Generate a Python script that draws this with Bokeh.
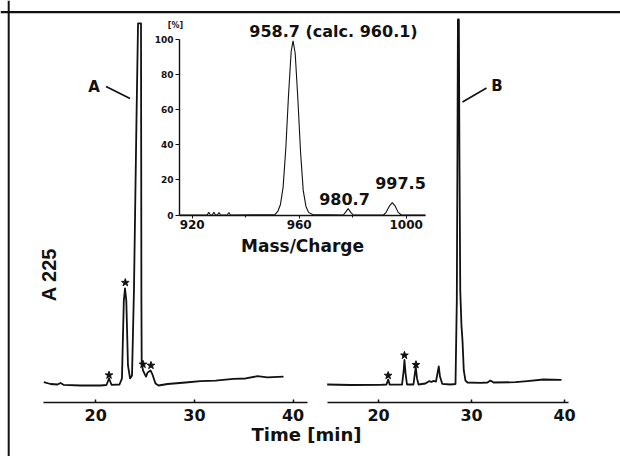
import math
from bokeh.plotting import figure
from bokeh.models import Range1d, LinearAxis, FixedTicker, Span
from bokeh.core.properties import value
from bokeh.embed import file_html
from bokeh.resources import INLINE

# ---------------- data ----------------
# Chromatogram A (left), time [min] vs absorbance at 225 nm (relative units)
time_a = [14.74, 15.42, 16.13, 16.43, 16.74, 18.46, 20.49, 21.09, 21.35, 21.60,
          22.41, 22.66, 22.85, 22.97, 23.10, 23.27, 23.48,
          23.68, 23.88, 24.13, 24.29, 24.59, 24.61, 24.63, 24.66,
          24.79, 24.98, 25.10, 25.25, 25.55, 25.75, 26.06, 26.36,
          27.29, 29.10, 30.62, 32.14, 33.96, 35.18, 36.39, 37.40, 39.03]
abs_a = [0.64, 0.14, 0.0, 0.42, -0.08, -0.28, -0.28, -0.14, 1.67, -0.08,
         0.0, 1.7, 23.3, 26.7, 23.3, 5.3, 1.7,
         2.5, 26.7, 73.3, 100.3, 100.3, 65.0, 23.3, 6.1,
         3.9, 2.8, 2.2, 3.3, 3.9, 2.8, 0.28, -0.28,
         0.14, 0.56, 0.92, 1.1, 1.58, 1.67, 2.3, 2.0, 2.2]
star_time_a = [21.35, 23.00, 24.79, 25.60]
star_abs_a = [2.6, 28.3, 5.6, 5.3]

# Chromatogram B (right)
time_b = [14.47, 16.98, 20.20, 20.85, 21.03, 21.20, 22.52, 22.70, 22.78, 22.89,
          23.05, 23.75, 23.91, 24.00, 24.13, 24.29, 25.04, 25.42, 25.69, 25.90,
          26.17, 26.39, 26.47, 26.60, 26.84, 27.73, 28.27, 28.41, 28.48, 28.53,
          28.63, 28.69, 28.78, 28.91, 29.02, 29.16, 29.34, 29.56, 30.96, 31.71,
          32.03, 32.36, 34.72, 36.01, 37.73, 39.67]
abs_b = [0.0, -0.14, -0.08, 0.0, 1.39, -0.06, -0.06, 3.9, 6.8, 3.3,
         0.0, 0.0, 3.3, 4.8, 1.7, 0.0, 0.28, 0.92, 0.7, 1.0,
         0.83, 3.9, 5.0, 2.2, 0.2, 0.0, 0.14, 23.3, 65.0, 101.4,
         101.4, 65.0, 26.1, 16.4, 12.2, 3.9, 1.1, 0.56, 0.47, 0.56,
         1.1, 0.56, 0.64, 0.92, 1.39, 1.3]
star_time_b = [21.03, 22.78, 24.02]
star_abs_b = [2.5, 8.1, 5.5]

# Inset mass spectrum, m/z vs relative intensity [%]
mz = [915.3, 925.6, 926.2, 926.8, 927.5, 928.1, 928.7, 929.4, 930.0, 930.6,
      933.1, 933.7, 934.3, 951.0, 952.0, 953.0, 954.0, 955.0, 956.0, 957.0,
      957.7, 958.5, 959.5, 960.5, 961.5, 962.5, 963.5, 965.0, 976.5, 977.3,
      978.3, 979.3, 980.2, 991.5, 992.5, 993.7, 994.8, 995.9, 997.0, 998.2, 1007.2]
intensity = [0.0, 0.0, 1.6, 0.0, 0.0, 1.6, 0.0, 0.0, 1.4, 0.0,
             0.0, 1.4, 0.0, 0.3, 2.0, 6.0, 16.0, 38.0, 68.0, 93.0,
             99.0, 92.0, 66.0, 36.0, 14.0, 5.0, 1.5, 0.3, 0.0, 1.5,
             3.6, 1.5, 0.0, 0.0, 1.5, 5.0, 7.0, 5.0, 1.5, 0.0, 0.0]

time_ticks = [20, 30, 40]
mz_ticks = [920, 960, 1000]
mz_minor_ticks = [940, 980]
pct_ticks = [0, 20, 40, 60, 80, 100]
peak_labels = ["958.7 (calc. 960.1)", "980.7", "997.5"]
trace_labels = ["A", "B"]

# ---------------- page calibration (layout) ----------------
W, H = 620, 456
X0, Y0 = 0, 0                      # page offset of the canvas
X1, Y1 = X0 + W, Y0 + H

def lin(p0, v0, slope, p):          # page pixel -> value
    return v0 + (p - p0) / slope

# left time scale: 30 min at page x 193.9, 9.87 px/min
tl = (lin(193.9, 30, 9.87, X0), lin(193.9, 30, 9.87, X1))
# right time scale: 30 min at page x 471.1, 9.3 px/min
tr = (lin(471.1, 30, 9.3, X0), lin(471.1, 30, 9.3, X1))
# absorbance: 0 at page y 384, 3.6 px per unit (upwards)
ab = (lin(384, 0, -3.6, Y1), lin(384, 0, -3.6, Y0))
# m/z: 960 at page x 298.7, 2.675 px per unit
mzr = (lin(298.7, 960, 2.675, X0), lin(298.7, 960, 2.675, X1))
# percent: 0 at page y 214.5, 1.758 px per %
pr = (lin(214.5, 0, -1.758, Y1), lin(214.5, 0, -1.758, Y0))

p = figure(width=W, height=H, title=None,
           x_range=Range1d(*tl), y_range=Range1d(*ab),
           x_axis_type=None, y_axis_type=None,
           output_backend="svg", toolbar_location=None, min_border=0,
           outline_line_color=None, background_fill_color="white",
           border_fill_color="white")
p.extra_x_ranges = {"tR": Range1d(*tr), "mz": Range1d(*mzr), "px": Range1d(X0, X1)}
p.extra_y_ranges = {"pct": Range1d(*pr), "py": Range1d(Y1, Y0)}

INK = "#111111"
FONT = "DejaVu Sans"

# frame border (top and left)
p.add_layout(Span(location=8.2, dimension="height", x_range_name="px",
                  line_color=INK, line_width=2))
p.add_layout(Span(location=11.6, dimension="width", y_range_name="py",
                  line_color=INK, line_width=2.2))

# chromatograms
p.line(time_a, abs_a, line_color=INK, line_width=1.8, line_join="round")
p.scatter(star_time_a, star_abs_a, marker="star", size=8, color=INK)
p.line(time_b, abs_b, x_range_name="tR", line_color=INK, line_width=1.8,
       line_join="round")
p.scatter(star_time_b, star_abs_b, marker="star", size=8, color=INK,
          x_range_name="tR")

# inset spectrum
p.line(mz, intensity, x_range_name="mz", y_range_name="pct",
       line_color=INK, line_width=1.1)

axis_loc = lin(384, 0, -3.6, 402)

def time_axis(xr_name, bounds):
    ax = LinearAxis(x_range_name=xr_name, fixed_location=axis_loc, bounds=bounds,
                    ticker=FixedTicker(ticks=time_ticks, minor_ticks=[]))
    ax.axis_line_color = INK
    ax.axis_line_width = 1.5
    ax.major_tick_in = 3
    ax.major_tick_out = 0
    ax.major_tick_line_color = INK
    ax.major_tick_line_width = 1.5
    ax.minor_tick_line_color = None
    ax.major_label_standoff = 6
    ax.major_label_text_font = FONT
    ax.major_label_text_font_style = "bold"
    ax.major_label_text_font_size = "16px"
    ax.major_label_text_color = INK
    return ax

p.add_layout(time_axis("default", (lin(193.9, 30, 9.87, 43.3), lin(193.9, 30, 9.87, 306.7))), "below")
p.add_layout(time_axis("tR", (lin(471.1, 30, 9.3, 326.7), lin(471.1, 30, 9.3, 568))), "below")

mz_left = lin(298.7, 960, 2.675, 179)
mz_right = lin(298.7, 960, 2.675, 425)

ax_mz = LinearAxis(x_range_name="mz", y_range_name="pct", fixed_location=0,
                   bounds=(mz_left, mz_right),
                   ticker=FixedTicker(ticks=mz_ticks, minor_ticks=mz_minor_ticks),
                   axis_label="Mass/Charge")
ax_mz.axis_line_color = INK
ax_mz.axis_line_width = 1.4
ax_mz.major_tick_in = 0
ax_mz.major_tick_out = 3
ax_mz.major_tick_line_color = INK
ax_mz.minor_tick_in = 0
ax_mz.minor_tick_out = 2
ax_mz.minor_tick_line_color = INK
ax_mz.major_label_standoff = 2
ax_mz.major_label_text_font = FONT
ax_mz.major_label_text_font_style = "bold"
ax_mz.major_label_text_font_size = "12px"
ax_mz.major_label_text_color = INK
ax_mz.axis_label_standoff = 3
ax_mz.axis_label_text_font = FONT
ax_mz.axis_label_text_font_style = "bold"
ax_mz.axis_label_text_font_size = "17px"
ax_mz.axis_label_text_color = INK
p.add_layout(ax_mz, "below")

ax_pct = LinearAxis(x_range_name="mz", y_range_name="pct", fixed_location=mz_left,
                    bounds=(0, 100), ticker=FixedTicker(ticks=pct_ticks, minor_ticks=[]))
ax_pct.axis_line_color = INK
ax_pct.axis_line_width = 1.4
ax_pct.major_tick_in = 0
ax_pct.major_tick_out = 4
ax_pct.major_tick_line_color = INK
ax_pct.minor_tick_line_color = None
ax_pct.major_label_standoff = 2
ax_pct.major_label_text_font = FONT
ax_pct.major_label_text_font_style = "bold"
ax_pct.major_label_text_font_size = "9px"
ax_pct.major_label_text_color = INK
p.add_layout(ax_pct, "left")

# texts (page-pixel positions)
def txt(x, y, s, size, font=FONT, angle=0.0, align="center"):
    p.text(x=[x], y=[y], text=[s], x_range_name="px", y_range_name="py",
           text_font=value(font), text_font_style="bold", text_font_size=size,
           text_align=align, text_baseline="middle", text_color=INK, angle=angle)

txt(333, 31, peak_labels[0], "16px")
txt(344, 198.5, peak_labels[1], "16px")
txt(400, 182, peak_labels[2], "16px")
txt(175, 25, "[%]", "8px")
txt(306, 434, "Time [min]", "18px")
txt(48, 274, "A 225", "20px", font="Liberation Sans", angle=math.pi / 2)
txt(93.5, 86, trace_labels[0], "15px")
txt(496.5, 85.5, trace_labels[1], "15px")

# pointer lines to the traces
ptr_x0 = [105.5, 462.0]
ptr_y0 = [86.0, 101.5]
ptr_x1 = [129.5, 486.0]
ptr_y1 = [98.0, 87.5]
p.segment(ptr_x0, ptr_y0, ptr_x1, ptr_y1, x_range_name="px", y_range_name="py",
          line_color=INK, line_width=1.6)

open("out.html", "w").write(file_html(p, INLINE))
